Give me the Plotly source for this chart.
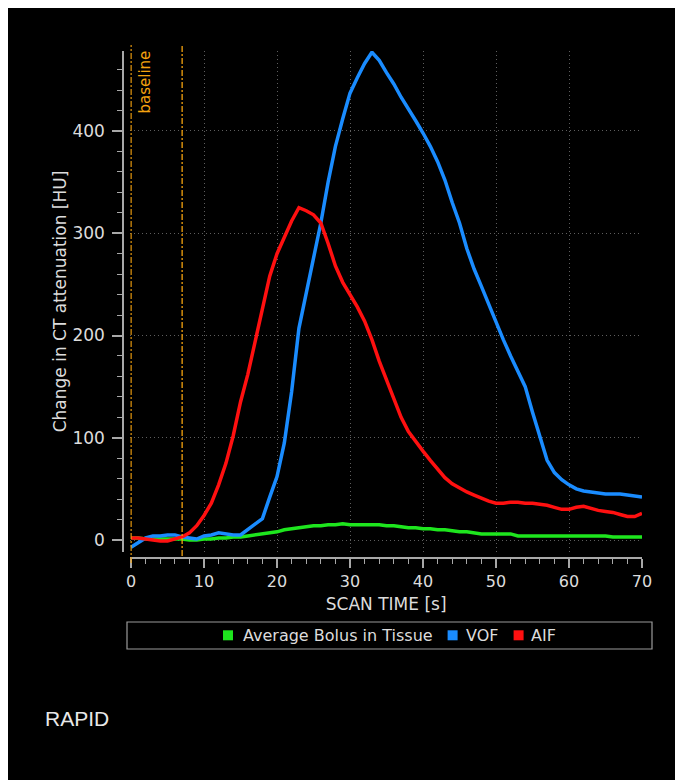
import plotly.graph_objects as go

# ---------------- data ----------------
scan_time = list(range(0, 71))

aif = [2, 2, 1, 0, -1, -1, 1, 3, 7, 14,
       24, 36, 54, 75, 102, 135, 162, 195, 228, 258,
       280, 296, 312, 325, 322, 318, 310, 290, 268, 252,
       240, 228, 214, 196, 175, 156, 138, 120, 106, 96,
       87, 78, 70, 61, 55, 51, 47, 44, 41, 38,
       36, 36, 37, 37, 36, 36, 35, 34, 32, 30,
       30, 32, 33, 31, 29, 28, 27, 25, 23, 23, 26]

vof = [-7, -2, 2, 4, 4, 5, 5, 3, 2, 1,
       4, 5, 7, 6, 5, 5, 10, 15, 21, 42,
       62, 95, 145, 207, 242, 275, 310, 350, 385, 412,
       437, 452, 466, 477, 469, 457, 446, 433, 422, 410,
       398, 385, 370, 352, 330, 310, 285, 265, 248, 230,
       212, 196, 180, 164, 150, 125, 100, 78, 66, 59,
       54, 50, 48, 47, 46, 45, 45, 45, 44, 43, 42]

tissue = [2, 2, 1, 1, 1, 1, 1, 1, 0, 0,
          1, 1, 2, 2, 3, 3, 4, 5, 6, 7,
          8, 10, 11, 12, 13, 14, 14, 15, 15, 16,
          15, 15, 15, 15, 15, 14, 14, 13, 12, 12,
          11, 11, 10, 10, 9, 8, 8, 7, 6, 6,
          6, 6, 6, 4, 4, 4, 4, 4, 4, 4,
          4, 4, 4, 4, 4, 4, 3, 3, 3, 3, 3]

series_names = ["Average Bolus in Tissue", "VOF", "AIF"]
series_colors = ["#1ee61e", "#1a8cff", "#ff1010"]
baseline_marks = [0, 7]
baseline_label = "baseline"

x_title = "SCAN TIME [s]"
y_title = "Change in CT attenuation [HU]"
brand = "RAPID"

# ---------------- layout geometry ----------------
OFF = 8                      # page offset of the figure (body margin)
W, H = 700, 780
L = 123 - OFF                # y axis line (page x 123)
T = 48 - OFF                 # plot top (page y 48)
PLOT_RIGHT = 642 - OFF       # x = 70 (page x 642)
XAXIS_Y = 558 - OFF          # x axis line (page y 558)
R = W - PLOT_RIGHT
B = H - XAXIS_Y
PW = W - L - R
PH = H - T - B


def fx(page_x):
    return (page_x - OFF - L) / PW


def fy(page_y):
    return (XAXIS_Y - (page_y - OFF)) / PH


FONT = "DejaVu Sans"
TXT = "#dcdcdc"
AXC = "#a8a8a8"
GRID = "#5e5e5e"
ORANGE = "#f5a30f"

fig = go.Figure()
for name, col, vals in zip(series_names, series_colors, [tissue, vof, aif]):
    fig.add_trace(go.Scatter(x=scan_time, y=vals, mode="lines", name=name,
                             line=dict(color=col, width=3.5),
                             showlegend=False))

# baseline markers
for i, b in enumerate(baseline_marks):
    fig.add_shape(type="line", xref="x", yref="paper", x0=b, x1=b,
                  y0=fy(563 if i == 0 else 556), y1=fy(45),
                  line=dict(color=ORANGE, width=1.3, dash="6px,2px,2px,2px"))
fig.add_annotation(x=baseline_marks[0], xref="x", y=fy(49), yref="paper",
                   text=baseline_label, textangle=-90, showarrow=False,
                   xanchor="left", yanchor="top", xshift=2,
                   font=dict(family=FONT, size=15, color=ORANGE))

# legend (frame, swatches, labels)
fig.add_shape(type="rect", xref="paper", yref="paper",
              x0=fx(127), x1=fx(652), y0=fy(649), y1=fy(622),
              line=dict(color="#9a9a9a", width=1.2), fillcolor="rgba(0,0,0,0)")
legend_swatch_px = [228, 452.6, 518.6]
legend_text_px = [241.5, 465, 530]
LEG_Y = 635.3
for name, col, sx, tx in zip(series_names, series_colors,
                             legend_swatch_px, legend_text_px):
    fig.add_shape(type="rect", xref="paper", yref="paper",
                  x0=fx(sx - 5), x1=fx(sx + 5), y0=fy(LEG_Y + 5), y1=fy(LEG_Y - 5),
                  line=dict(width=0), fillcolor=col)
    fig.add_annotation(x=fx(tx), y=fy(LEG_Y), xref="paper", yref="paper",
                       text=name, showarrow=False, xanchor="left", yanchor="middle",
                       borderpad=0,
                       font=dict(family=FONT, size=16, color=TXT))

fig.add_annotation(x=fx(44), y=fy(718), xref="paper", yref="paper",
                   text=brand, showarrow=False, xanchor="left", yanchor="middle",
                   borderpad=0,
                   font=dict(family="Liberation Sans", size=21, color="#e8e8e8"))

fig.update_layout(
    width=W, height=H,
    margin=dict(l=L, r=R, t=T, b=B, pad=0),
    paper_bgcolor="black", plot_bgcolor="black",
    font=dict(family=FONT, size=16, color=TXT),
    showlegend=False,
    xaxis=dict(range=[-0.1, 70], domain=[fx(130.3), 1],
               anchor="free", position=0,
               showline=True, linecolor=AXC, linewidth=1.5,
               ticks="outside", ticklen=9, tickwidth=1.5, tickcolor=AXC,
               tick0=0, dtick=10,
               minor=dict(ticks="outside", ticklen=5, tickwidth=1.2,
                          tickcolor=AXC, dtick=2, showgrid=False),
               showgrid=True, gridcolor=GRID, gridwidth=1, griddash="1px,3px",
               zeroline=False,
               tickfont=dict(family=FONT, size=16, color=TXT),
               title=dict(text=x_title, standoff=7,
                          font=dict(family=FONT, size=17, color=TXT))),
    yaxis=dict(range=[-11.7, 478.2], domain=[fy(552), fy(51)],
               anchor="free", position=0,
               showline=True, linecolor=AXC, linewidth=1.5,
               ticks="outside", ticklen=10, tickwidth=1.5, tickcolor=AXC,
               tick0=0, dtick=100, ticklabelstandoff=4,
               minor=dict(ticks="outside", ticklen=5, tickwidth=1.2,
                          tickcolor=AXC, dtick=20, showgrid=False),
               showgrid=True, gridcolor=GRID, gridwidth=1, griddash="1px,3px",
               zeroline=False,
               tickfont=dict(family=FONT, size=17, color=TXT),
               title=dict(text=y_title, standoff=0,
                          font=dict(family=FONT, size=17, color=TXT))),
)

fig.write_html("out.html")
